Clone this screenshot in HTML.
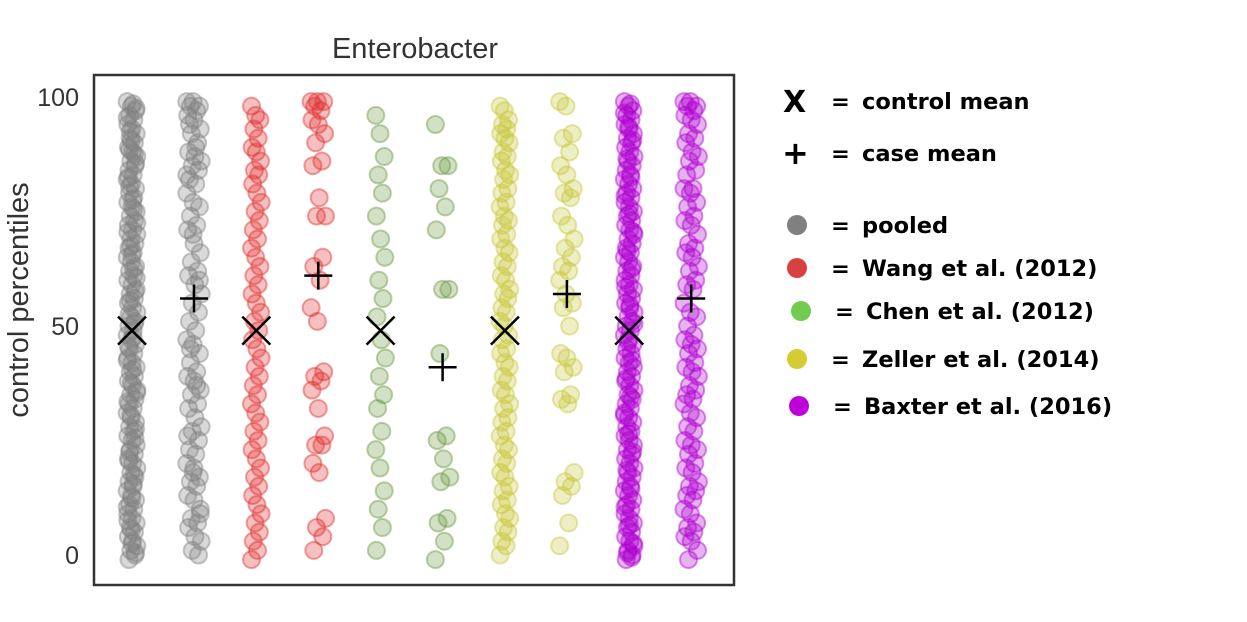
<!DOCTYPE html>
<html><head><meta charset="utf-8"><style>
html,body{margin:0;padding:0;background:#fff;}
body{width:1247px;height:618px;overflow:hidden;font-family:"DejaVu Sans",sans-serif;}
svg text{font-family:"DejaVu Sans",sans-serif;}
svg text.lib{font-family:"Liberation Sans",sans-serif;}
</style></head><body>
<svg id="chart" width="1247" height="618" xmlns="http://www.w3.org/2000/svg">
<text class="lib" x="415" y="58" font-size="29" text-anchor="middle" fill="#333">Enterobacter</text>
<text class="lib" transform="translate(28,300) rotate(-90)" font-size="29" text-anchor="middle" fill="#333">control percentiles</text>
<g id="ticks"></g>
<g id="marks"></g>
<rect x="94" y="75" width="640" height="510" fill="none" stroke="#333" stroke-width="2.5"/>
<g font-size="22.5" font-weight="bold" fill="#000">
  <text x="783" y="112" font-size="30">X</text>
  <text x="831" y="109">=</text>
  <text x="862" y="109">control mean</text>
  <text x="782" y="164" font-size="32">+</text>
  <text x="831" y="161">=</text>
  <text x="862" y="161">case mean</text>
  <circle cx="797" cy="225" r="10" fill="#808080"/>
  <text x="831" y="233">=</text>
  <text x="862" y="233">pooled</text>
  <circle cx="797" cy="268" r="10" fill="#d94040"/>
  <text x="831" y="276">=</text>
  <text x="862" y="276">Wang et al. (2012)</text>
  <circle cx="801" cy="311" r="10" fill="#72cc4e"/>
  <text x="835" y="319">=</text>
  <text x="866" y="319">Chen et al. (2012)</text>
  <circle cx="797" cy="359" r="10" fill="#d4cc30"/>
  <text x="831" y="367">=</text>
  <text x="862" y="367">Zeller et al. (2014)</text>
  <circle cx="799" cy="406" r="10" fill="#c000d8"/>
  <text x="833" y="414">=</text>
  <text x="864" y="414">Baxter et al. (2016)</text>
</g>
</svg>
<script>
const tickValues=[0,50,100];
const groupNames=["pooled","wang","chen","zeller","baxter"];
const groupColors=["#808080","#e03030","#6a9a40","#c8c83a","#b000d0"];
const controlMeans=[49,49,49,49,49];
const caseMeans=[56,61,41,57,56];
const pooledControl=[99,98,97,96,95,94,93,92,91,90,89,88,87,86,85,84,83,82,81,80,79,78,77,76,75,74,73,72,71,70,69,68,67,66,65,64,63,62,61,60,59,58,57,56,55,54,53,52,51,50,49,48,47,46,45,44,43,42,41,40,39,38,37,36,35,34,33,32,31,30,29,28,27,26,25,24,23,22,21,20,19,18,17,16,15,14,13,12,11,10,9,8,7,6,5,4,3,2,1,0,-1,98.5,95.5,90.5,85.5,80.5,75.5,70.5,65.5,60.5,55.5,50.5,45.5,40.5,35.5,30.5,25.5,20.5,15.5,10.5,5.5,0.5,88.5,62.5,33.5,12.5,97.5,92.5,87.5,82.5,77.5,72.5,67.5,57.5,52.5,47.5,42.5,37.5,27.5,22.5,17.5,7.5,2.5];
const pooledCase=[99,99,98,98,97,96,95,93,92,90,88,87,86,85,84,82,81,79,77,76,74,72,71,68,66,64,62,61,59,57,55,53,51,49,47,46,44,42,40,39,38,36,35,33,32,30,28,27,25,23,22,20,18,17,16,15,13,12,10,8,7,6,4,3,1,0,94,89,83,70,60,45,37,26,19,9];
const wangControl=[98,96,95,93,91,89,88,86,84,83,81,79,77,75,73,71,69,67,65,63,61,59,57,55,53,51,49,47,45,43,41,39,37,35,33,31,29,27,25,23,21,19,17,15,13,11,9,7,5,3,1,-1];
const wangCase=[99,99,99,98,97,95,94,92,90,86,85,78,74,74,65,63,60,54,51,40,39,38,36,32,26,24,24,20,18,8,6,4,1];
const chenControl=[96,92,87,83,79,74,69,65,60,56,52,47,43,39,35,32,27,23,19,14,10,6,1];
const chenCase=[94,85,85,80,76,71,58,58,44,26,25,21,17,16,8,7,3,-1];
const zellerControl=[98,97,95,94,93,92,91,90,88,87,86,84,83,82,80,79,77,76,74,73,72,70,69,67,66,64,63,61,60,58,57,56,54,53,51,50,48,47,45,44,42,41,39,38,36,35,33,32,30,29,27,26,24,23,21,20,18,17,15,14,12,11,9,8,6,5,3,2,0];
const zellerCase=[99,98,92,91,88,85,83,80,79,78,74,72,69,67,65,63,62,60,57,55,54,50,44,43,41,40,35,34,33,18,16,15,13,7,2];
const baxterControl=[99,98,97,96,95,94,93,92,91,90,89,88,87,86,85,84,83,82,81,80,79,78,77,76,75,74,73,72,71,70,69,68,67,66,65,64,63,62,61,60,59,58,57,56,55,54,53,52,51,50,49,48,47,46,45,44,43,42,41,40,39,38,37,36,35,34,33,32,31,30,29,28,27,26,25,24,23,22,21,20,19,18,17,16,15,14,13,12,11,10,9,8,7,6,5,4,3,2,1,0,-1,98.5,96.5,93.5,90.5,86.5,82.5,78.5,74.5,70.5,66.5,62.5,58.5,54.5,50.5,46.5,42.5,38.5,34.5,30.5,26.5,22.5,18.5,14.5,10.5,6.5,2.5,0.5,-0.5];
const baxterCase=[99,99,98,98,97,96,95,94,92,91,90,88,87,86,84,83,80,80,79,77,76,74,73,72,70,68,67,66,65,63,62,60,59,58,55,53,52,50,48,47,46,45,44,42,41,40,39,37,36,35,34,33,31,30,28,27,25,24,23,22,20,19,18,16,15,14,13,12,10,9,7,6,5,4,3,1,-1];
const controlSeries=[pooledControl,wangControl,chenControl,zellerControl,baxterControl];
const caseSeries=[pooledCase,wangCase,chenCase,zellerCase,baxterCase];

const NS="http://www.w3.org/2000/svg";
function yScale(v){return 555-v*4.58;}
function xScale(g,isCase){return 132+g*124.3+(isCase?62:0);}
const ticksG=document.getElementById("ticks");
tickValues.forEach(t=>{
  const tx=document.createElementNS(NS,"text");
  
  
  tx.setAttribute("class","lib");
  tx.setAttribute("x",79);tx.setAttribute("y",yScale(t)+9);
  tx.setAttribute("text-anchor","end");tx.setAttribute("font-size","25");tx.setAttribute("fill","#333");
  tx.textContent=t;ticksG.appendChild(tx);
});
const marks=document.getElementById("marks");
function drawPoints(arr,g,isCase){
  const cx0=xScale(g,isCase);
  arr.forEach((v,i)=>{
    const c=document.createElementNS(NS,"circle");
    
    
    const j=((i*7)%17)-8;
    c.setAttribute("cx",cx0+j*(isCase?0.9:0.6));
    c.setAttribute("cy",yScale(v));
    c.setAttribute("r",8.5);
    c.setAttribute("fill",groupColors[g]);c.setAttribute("fill-opacity","0.3");
    c.setAttribute("stroke",groupColors[g]);c.setAttribute("stroke-opacity","0.45");c.setAttribute("stroke-width","2");
    marks.appendChild(c);
  });
}
for(let g=0;g<5;g++){drawPoints(controlSeries[g],g,false);drawPoints(caseSeries[g],g,true);}
for(let g=0;g<5;g++){
  const x=xScale(g,false),y=yScale(controlMeans[g]);
  const p=document.createElementNS(NS,"path");
  
  
  p.setAttribute("d",`M${x-14},${y-14}L${x+14},${y+14}M${x-14},${y+14}L${x+14},${y-14}`);
  p.setAttribute("stroke","#000");p.setAttribute("stroke-width","2.5");marks.appendChild(p);
  const x2=xScale(g,true),y2=yScale(caseMeans[g]);
  const q=document.createElementNS(NS,"path");
  
  
  q.setAttribute("d",`M${x2-14},${y2}L${x2+14},${y2}M${x2},${y2-14}L${x2},${y2+14}`);
  q.setAttribute("stroke","#000");q.setAttribute("stroke-width","2.5");marks.appendChild(q);
}
</script>
</body></html>
